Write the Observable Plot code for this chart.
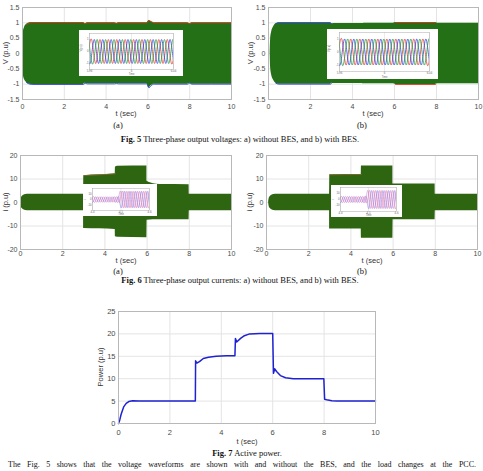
<!DOCTYPE html>
<html><head><meta charset="utf-8">
<script src="https://cdn.jsdelivr.net/npm/d3@7"></script>
<script src="https://cdn.jsdelivr.net/npm/@observablehq/plot@0.6"></script>
<style>
body{margin:0;background:#fff;}
#page{position:relative;width:483px;height:471px;overflow:hidden;background:#fff;}
.box{position:absolute;}
.lbl{position:absolute;font-family:'Liberation Sans',Arial,sans-serif;font-size:7.5px;color:#333;white-space:nowrap;transform:translate(-50%,-50%);line-height:1;}
.rot{transform:translate(-50%,-50%) rotate(-90deg);}
.cap{position:absolute;font-family:'Liberation Serif','Times New Roman',serif;font-size:8.5px;color:#111;white-space:nowrap;transform:translate(-50%,-50%);line-height:1;}
.ins{position:absolute;background:#fff;}
</style></head><body><div id="page"></div>
<script>
// ---------- axes ----------
const xTicks = [0, 2, 4, 6, 8, 10];
const vTicks = [-1.5, -1, -0.5, 0, 0.5, 1, 1.5];
const iTicks = [-20, -10, 0, 10, 20];
const pTicks = [0, 5, 10, 15, 20, 25];

// ---------- Fig 5a: voltage envelope without BES ----------
const v5aT  = [0, 0.05, 0.1, 0.2, 0.35, 0.5, 2.9, 3.0, 3.1, 4.4, 4.5, 4.6, 5.95, 6.05, 6.15, 6.3, 7.9, 8.0, 8.1, 10];
const v5aHi = [0.55, 0.75, 0.86, 0.95, 1.0, 1.01, 1.01, 0.97, 1.0, 1.0, 0.98, 1.0, 1.0, 1.08, 1.04, 1.0, 1.0, 0.97, 1.0, 1.0];
const v5aLo = [-0.55, -0.75, -0.86, -0.95, -1.0, -1.01, -1.01, -0.97, -0.99, -0.99, -0.98, -0.99, -0.99, -1.12, -1.05, -1.0, -1.0, -0.97, -1.0, -1.0];
// ---------- Fig 5b: voltage envelope with BES ----------
const v5bT  = [0.08, 0.1, 0.15, 0.25, 0.35, 0.5, 2.95, 3.0, 3.1, 4.45, 4.55, 5.95, 6.05, 7.95, 8.05, 10];
const v5bHi = [0, 0.45, 0.7, 0.88, 0.97, 1.0, 1.0, 0.97, 0.98, 0.98, 0.99, 0.99, 1.01, 1.01, 0.99, 0.99];
const v5bLo = [0, -0.45, -0.7, -0.88, -0.97, -1.0, -1.0, -0.97, -0.98, -0.98, -0.99, -0.99, -1.01, -1.01, -0.99, -0.99];

// ---------- Fig 6a: current envelope without BES ----------
const i6aT  = [0, 0.03, 0.08, 0.15, 0.25, 0.4, 2.99, 3.0, 4.49, 4.5, 4.6, 5.99, 6.0, 6.3, 6.6, 7.99, 8.0, 10];
const i6aHi = [0, 1.8, 2.6, 3.1, 3.4, 3.5, 3.5, 11.4, 12.2, 15.0, 15.4, 15.5, 9.0, 8.0, 7.7, 7.6, 3.5, 3.5];
const i6aLo = [0, -1.8, -2.6, -3.1, -3.4, -3.5, -3.5, -11.1, -11.5, -14.6, -14.8, -15.0, -7.6, -7.3, -7.3, -7.3, -3.5, -3.5];
// ---------- Fig 6b: current envelope with BES ----------
const i6bT  = [0.1, 0.13, 0.18, 0.25, 0.35, 0.5, 2.99, 3.0, 4.49, 4.5, 5.99, 6.0, 7.99, 8.0, 10];
const i6bHi = [0, 1.8, 2.6, 3.1, 3.4, 3.5, 3.5, 11.8, 11.9, 15.5, 15.5, 7.9, 7.9, 3.5, 3.5];
const i6bLo = [0, -1.8, -2.6, -3.1, -3.4, -3.5, -3.5, -11.3, -11.3, -15.2, -15.2, -7.3, -7.3, -3.5, -3.5];

// ---------- Fig 7: active power ----------
const pT = [0, 0.05, 0.1, 0.2, 0.3, 0.4, 0.55, 0.8, 2.99, 3.0, 3.05, 3.15, 3.3, 3.5, 3.8, 4.2, 4.53, 4.55, 4.6, 4.75, 4.9, 5.1, 5.5, 6.0, 6.03, 6.08, 6.15, 6.3, 6.5, 6.8, 7.99, 8.02, 8.1, 8.3, 8.5, 10];
const pV = [0, 0.8, 2.0, 3.7, 4.5, 4.9, 5.1, 5.0, 5.0, 14.0, 13.5, 13.8, 14.5, 14.8, 15.0, 15.1, 15.1, 19.0, 18.2, 19.0, 19.6, 20.0, 20.1, 20.1, 11.2, 12.2, 11.6, 10.7, 10.2, 10.0, 10.0, 5.4, 5.3, 5.1, 5.0, 5.0];

// ---------- insets: extremum positions (in cycles) of the three phases ----------
const phaseA = [-0.25, 0.25, 0.75, 1.25, 1.75, 2.25, 2.75, 3.25, 3.75, 4.25, 4.75, 5.25, 5.75, 6.25, 6.75, 7.25, 7.75, 8.25, 8.75, 9.25, 9.75, 10.25];
const phaseB = [-0.42, 0.08, 0.58, 1.08, 1.58, 2.08, 2.58, 3.08, 3.58, 4.08, 4.58, 5.08, 5.58, 6.08, 6.58, 7.08, 7.58, 8.08, 8.58, 9.08, 9.58, 10.08, 10.58];
const phaseC = [-0.08, 0.42, 0.92, 1.42, 1.92, 2.42, 2.92, 3.42, 3.92, 4.42, 4.92, 5.42, 5.92, 6.42, 6.92, 7.42, 7.92, 8.42, 8.92, 9.42, 9.92, 10.42];
const phaseStartSign = [-1, 1, 1];
const ins5Amp = [1.0, 1.0];          // voltage inset amplitude (before, after)
const ins6Amp = [5, 15];             // current inset amplitude (before, after load step)
const ins6Step = 4.9;                // cycle where the current step occurs
const ins5XLabels = ["5.96", "6", "6.04"];
const ins6XLabels = ["4.4", "4.5", "4.6"];
const ins5YTicks = [-1, 0, 1];
const ins6YTicks = [-10, 0, 10];

// ---------- colours ----------
const c5Fill = "#237016", c6Fill = "#2d6510";
const cRed = "#d9381e", cBlue = "#2b3fd6", cBrown = "#9a6a3a", cPow = "#1f22d0";

const page = document.getElementById("page");
const env = (T, H, L) => T.map((t, i) => ({t, hi: H[i], lo: L[i]}));
const inRange = (d, a, b) => d.filter(p => p.t >= a && p.t <= b);
const fmt = d => String(d);

function place(el, left, top, cls) {
  const w = document.createElement("div");
  w.className = cls || "box";
  w.style.left = left + "px"; w.style.top = top + "px";
  w.appendChild(el); page.appendChild(w); return w;
}
function text(html, x, y, cls) {
  const d = document.createElement("div");
  d.className = cls; d.innerHTML = html;
  d.style.left = x + "px"; d.style.top = y + "px";
  page.appendChild(d);
}

function mainPlot(o) {
  return Plot.plot({
    width: o.w, height: o.h,
    marginLeft: o.ml, marginRight: o.mr, marginTop: o.mt, marginBottom: o.mb,
    x: {domain: [0, 10], ticks: xTicks, tickSize: 0, tickPadding: o.xpad, label: null, tickFormat: fmt},
    y: {domain: o.yd, ticks: o.yt, tickSize: 0, tickPadding: 3, label: null, tickFormat: fmt},
    style: {fontSize: (o.fs || 7) + "px", fontFamily: "'Liberation Sans', Arial, sans-serif", color: "#4a4a4a", background: "transparent", overflow: "visible"},
    marks: [
      Plot.gridX(xTicks, {stroke: "#e4e4e4", strokeOpacity: 1}),
      Plot.gridY(o.yt, {stroke: "#e4e4e4", strokeOpacity: 1}),
      ...o.marks,
      Plot.frame({stroke: "#b8b8b8"})
    ]
  });
}

function envMarks(data, fill, edges) {
  const m = [Plot.areaY(data, {x: "t", y1: "lo", y2: "hi", fill, curve: "monotone-x"})];
  for (const e of edges) {
    m.push(Plot.lineY(inRange(data, e.from, e.to), {x: "t", y: e.side, stroke: e.color, strokeWidth: e.w || 0.9, curve: "monotone-x"}));
  }
  return m;
}

function wave(times, sign, amps, step, color) {
  return times.map((t, i) => ({t, v: sign * (i % 2 ? -1 : 1) * (t < step ? amps[0] : amps[1]), color}));
}

function insetPlot(o) {
  const series = [
    ...wave(phaseA, phaseStartSign[0], o.amp, o.step, "A"),
    ...wave(phaseB, phaseStartSign[1], o.amp, o.step, "B"),
    ...wave(phaseC, phaseStartSign[2], o.amp, o.step, "C")
  ];
  return Plot.plot({
    width: o.w, height: o.h,
    marginLeft: o.ml, marginRight: o.mr, marginTop: o.mt, marginBottom: o.mb,
    x: {domain: [0, 10], ticks: [0, 5, 10], tickSize: 0, tickPadding: 0.8, label: null, tickFormat: (d, i) => o.xl[i]},
    y: {domain: o.yd, ticks: o.yt, tickSize: 0, tickPadding: 1, label: null, tickFormat: fmt},
    color: {domain: ["A", "B", "C"], range: o.colors},
    style: {fontSize: "2.8px", fontFamily: "'Liberation Sans', Arial, sans-serif", color: "#666", background: "#fff", overflow: "visible"},
    marks: [
      Plot.gridX([0, 5, 10], {stroke: "#ececec", strokeOpacity: 1}),
      Plot.line(series, {x: "t", y: "v", z: "color", stroke: "color", strokeWidth: o.sw, curve: "natural", clip: true}),
      Plot.frame({stroke: "#aaa", strokeWidth: 0.5}),
      Plot.text([o.xt], {frameAnchor: "bottom", dy: o.mb - 1.3, fontSize: 2.6, fill: "#666"}),
      Plot.text([o.yl], {frameAnchor: "left", dx: -o.ml + 1.6, rotate: -90, fontSize: 2.6, fill: "#666"})
    ]
  });
}

// ---------- Fig 5 ----------
const d5a = env(v5aT, v5aHi, v5aLo), d5b = env(v5bT, v5bHi, v5bLo);
place(mainPlot({w: 240, h: 112, ml: 22, mr: 9, mt: 7, mb: 13, xpad: 4.5, yd: [-1.5, 1.5], yt: vTicks,
  marks: envMarks(d5a, c5Fill, [
    {side: "hi", from: 0.2, to: 10, color: cRed},
    {side: "lo", from: 0.2, to: 10, color: cBlue}
  ])}), 0, 0);
place(mainPlot({w: 243, h: 112, ml: 28, mr: 5, mt: 7, mb: 13, xpad: 4.5, yd: [-1.5, 1.5], yt: vTicks,
  marks: envMarks(d5b, c5Fill, [
    {side: "hi", from: 0.3, to: 3.0, color: cBlue},
    {side: "lo", from: 0.3, to: 3.0, color: cBlue},
    {side: "hi", from: 6.0, to: 8.0, color: cRed},
    {side: "lo", from: 6.0, to: 8.0, color: cRed}
  ])}), 240, 0);
place(insetPlot({w: 104, h: 46, ml: 10, mr: 10, mt: 3, mb: 7, yd: [-1.5, 1.5], yt: ins5YTicks,
  amp: ins5Amp, step: 99, xl: ins5XLabels, colors: ["#e0413a", "#3048e0", "#2e9a3e"], sw: 0.8, xt: "Time", yl: "V(p.u)"}), 79, 30, "ins");
place(insetPlot({w: 111, h: 50, ml: 12, mr: 9, mt: 3, mb: 8, yd: [-1.5, 1.5], yt: ins5YTicks,
  amp: ins5Amp, step: 99, xl: ins5XLabels, colors: ["#e0413a", "#3048e0", "#2e9a3e"], sw: 0.8, xt: "Time", yl: "V(p.u)"}), 327, 29, "ins");

text("V (p.u)", 6, 53, "lbl rot");
text("V (p.u)", 251, 53, "lbl rot");
text("t (sec)", 126, 114, "lbl");
text("t (sec)", 373, 114, "lbl");
text("(a)", 118, 125, "cap");
text("(b)", 362, 125, "cap");
text("<b>Fig. 5</b> Three-phase output voltages: a) without BES, and b) with BES.", 240, 139, "cap");

// ---------- Fig 6 ----------
const d6a = env(i6aT, i6aHi, i6aLo), d6b = env(i6bT, i6bHi, i6bLo);
place(mainPlot({w: 240, h: 115, ml: 20, mr: 9, mt: 10, mb: 11, xpad: 2, yd: [-20, 20], yt: iTicks,
  marks: envMarks(d6a, c6Fill, [{side: "hi", from: 3.0, to: 4.49, color: cBrown, w: 0.7}])}), 0, 145);
place(mainPlot({w: 243, h: 115, ml: 26, mr: 6, mt: 10, mb: 11, xpad: 2, yd: [-20, 20], yt: iTicks,
  marks: envMarks(d6b, c6Fill, [{side: "hi", from: 3.0, to: 4.49, color: cBrown, w: 0.7}])}), 240, 145);
place(insetPlot({w: 74, h: 32, ml: 9, mr: 8, mt: 4, mb: 6, yd: [-20, 20], yt: ins6YTicks,
  amp: ins6Amp, step: ins6Step, xl: ins6XLabels, colors: ["#e06a8a", "#7a6ae0", "#c46ad0"], sw: 0.5, xt: "Time", yl: "i"}), 83, 184, "ins");
place(insetPlot({w: 71, h: 32, ml: 9, mr: 6, mt: 2, mb: 6, yd: [-20, 20], yt: ins6YTicks,
  amp: ins6Amp, step: ins6Step, xl: ins6XLabels, colors: ["#e06a8a", "#7a6ae0", "#c46ad0"], sw: 0.5, xt: "Time", yl: "i"}), 331, 185, "ins");

text("i (p.u)", 6, 202, "lbl rot");
text("i (p.u)", 250, 202, "lbl rot");
text("t (sec)", 126, 261, "lbl");
text("t (sec)", 372, 261, "lbl");
text("(a)", 118, 271, "cap");
text("(b)", 362, 271, "cap");
text("<b>Fig. 6</b> Three-phase output currents: a) without BES, and b) with BES.", 240, 280, "cap");

// ---------- Fig 7 ----------
const d7 = pT.map((t, i) => ({t, p: pV[i]}));
place(mainPlot({w: 320, h: 140, ml: 38, mr: 25, mt: 11, mb: 17, xpad: 6, yd: [0, 25], yt: pTicks, fs: 7.5,
  marks: [Plot.line(d7, {x: "t", y: "p", stroke: cPow, strokeWidth: 1.5})]}), 80, 300);
text("Power (p.u)", 101, 367, "lbl rot");
text("t (sec)", 247, 442, "lbl");
text("<b>Fig. 7</b> Active power.", 247, 453, "cap");

// body text line at the bottom edge
const body = document.createElement("div");
body.className = "cap";
body.style.cssText = "left:8px;top:461px;width:468px;transform:none;text-align:justify;text-align-last:justify;white-space:nowrap;font-size:8px;";
body.textContent = "The Fig. 5 shows that the voltage waveforms are shown with and without the BES, and the load changes at the PCC.";
page.appendChild(body);
</script></body></html>
